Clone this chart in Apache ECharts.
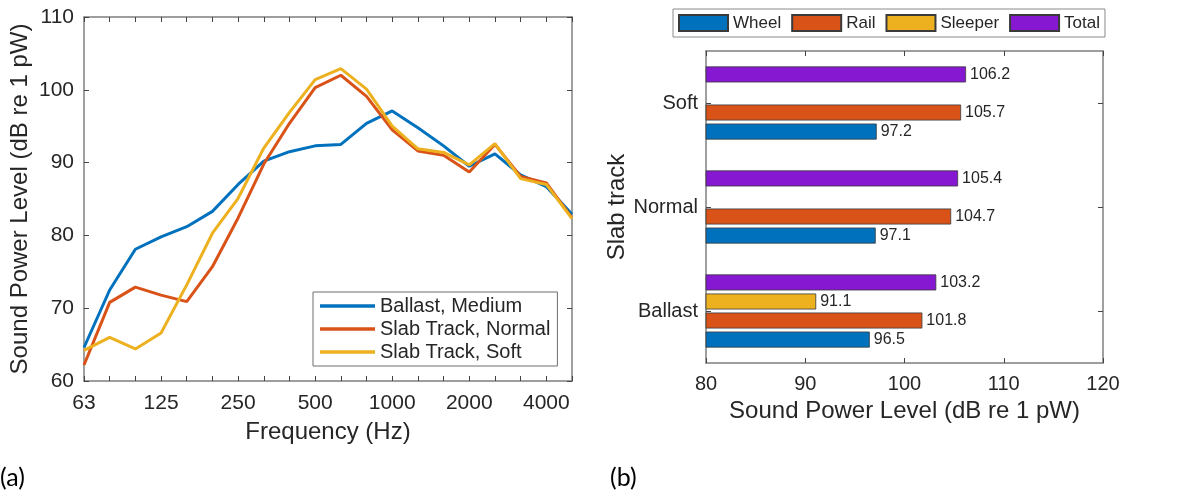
<!DOCTYPE html>
<html>
<head>
<meta charset="utf-8">
<script src="https://cdn.jsdelivr.net/npm/echarts@6/dist/echarts.min.js"></script>
<style>
html,body{margin:0;padding:0;background:#fff;}
#c{width:1179px;height:499px;}
</style>
</head>
<body>
<div id="c"></div>
<script>
// ---- data: panel (a) ----
const freqBands = ['63','80','100','125','160','200','250','315','400','500','630','800','1000','1250','1600','2000','2500','3150','4000','5000'];
const freqTickLabels = ['63','125','250','500','1000','2000','4000'];
const ballastMedium = [64.6,72.5,78.1,79.8,81.2,83.3,87.0,90.2,91.5,92.3,92.5,95.4,97.1,94.8,92.3,89.5,91.2,88.3,86.7,82.9];
const slabNormal    = [62.2,70.8,72.9,71.8,70.9,75.7,82.4,89.8,95.4,100.3,102.0,99.1,94.5,91.6,91.0,88.7,92.5,88.1,87.2,82.4];
const slabSoft      = [64.2,66.0,64.4,66.6,73.2,80.3,85.1,92.0,96.9,101.4,102.9,100.1,95.0,91.9,91.4,89.7,92.6,87.8,87.0,82.3];
const lineNames = ['Ballast, Medium','Slab Track, Normal','Slab Track, Soft'];

// ---- data: panel (b) ----
const trackTypes = ['Ballast','Normal','Soft'];
const wheel   = [96.5, 97.1, 97.2];
const rail    = [101.8, 104.7, 105.7];
const sleeper = [91.1, null, null];
const total   = [103.2, 105.4, 106.2];
const barNames = ['Wheel','Rail','Sleeper','Total'];

const FONT = '"Liberation Sans", Arial, Helvetica, sans-serif';
const TXT = '#262626';
const AX = '#7f7f7f';
const C = {blue:'#0072BD', orange:'#D95319', yellow:'#EDB120', purple:'#8718D1'};

const chart = echarts.init(document.getElementById('c'), null, {renderer:'canvas'});

const tickIn = {show:true, inside:true, length:5, lineStyle:{color:'#444', width:1}};

function lineSeries(name, data, color){
  return {type:'line', name, data, xAxisIndex:0, yAxisIndex:0, symbol:'none',
    lineStyle:{color, width:3}, itemStyle:{color}, z:3, animation:false};
}
function barSeries(name, data, color){
  return {type:'bar', name, data, xAxisIndex:2, yAxisIndex:2, barWidth:16, barGap:'19%',
    itemStyle:{color, borderColor:'#3a3a3a', borderWidth:0.8},
    label:{show:true, position:'right', distance:4, color:TXT, fontFamily:FONT, fontSize:16,
      formatter:p => p.value == null ? '' : Number(p.value).toFixed(1)},
    animation:false};
}

const option = {
  backgroundColor:'#fff',
  textStyle:{fontFamily:FONT, color:TXT},
  grid:[
    {left:84, top:17, width:488, height:364},
    {left:706, top:51, width:397, height:312}
  ],
  xAxis:[
    {gridIndex:0, type:'category', data:freqBands, boundaryGap:false, position:'bottom',
      axisLine:{lineStyle:{color:AX, width:1.5}},
      axisTick:Object.assign({}, tickIn, {interval:0}),
      axisLabel:{color:TXT, fontSize:21, fontFamily:FONT, margin:12,
        interval:(i, v) => freqTickLabels.includes(v)},
      splitLine:{show:false},
      name:'Frequency (Hz)', nameLocation:'middle', nameGap:39,
      nameTextStyle:{fontSize:24, color:TXT, fontFamily:FONT}},
    {gridIndex:0, type:'category', data:freqBands, boundaryGap:false, position:'top',
      axisLine:{lineStyle:{color:AX, width:1.5}},
      axisTick:Object.assign({}, tickIn, {interval:0}),
      axisLabel:{show:false}, splitLine:{show:false}},
    {gridIndex:1, type:'value', min:80, max:120, interval:10, position:'bottom',
      axisLine:{show:true, lineStyle:{color:AX, width:1.5}},
      axisTick:tickIn,
      axisLabel:{color:TXT, fontSize:20, fontFamily:FONT, margin:11},
      splitLine:{show:false},
      name:'Sound Power Level (dB re 1 pW)', nameLocation:'middle', nameGap:35,
      nameTextStyle:{fontSize:24, color:TXT, fontFamily:FONT}},
    {gridIndex:1, type:'value', min:80, max:120, interval:10, position:'top',
      axisLine:{show:true, lineStyle:{color:AX, width:1.5}},
      axisTick:tickIn, axisLabel:{show:false}, splitLine:{show:false}}
  ],
  yAxis:[
    {gridIndex:0, type:'value', min:60, max:110, interval:10, position:'left',
      axisLine:{show:true, lineStyle:{color:AX, width:1.5}},
      axisTick:tickIn,
      axisLabel:{color:TXT, fontSize:21, fontFamily:FONT, margin:10},
      splitLine:{show:false},
      name:'Sound Power Level (dB re 1 pW)', nameLocation:'middle', nameGap:52,
      nameTextStyle:{fontSize:24, color:TXT, fontFamily:FONT}},
    {gridIndex:0, type:'value', min:60, max:110, interval:10, position:'right',
      axisLine:{show:true, lineStyle:{color:AX, width:1.5}},
      axisTick:tickIn, axisLabel:{show:false}, splitLine:{show:false}},
    {gridIndex:1, type:'category', data:trackTypes, position:'left',
      axisLine:{show:true, lineStyle:{color:AX, width:1.5}},
      axisTick:Object.assign({}, tickIn, {alignWithLabel:true}),
      axisLabel:{color:TXT, fontSize:20, fontFamily:FONT, margin:8},
      splitLine:{show:false},
      name:'Slab track', nameLocation:'middle', nameGap:69,
      nameTextStyle:{fontSize:24, color:TXT, fontFamily:FONT}},
    {gridIndex:1, type:'category', data:trackTypes, position:'right',
      axisLine:{show:true, lineStyle:{color:AX, width:1.5}},
      axisTick:Object.assign({}, tickIn, {alignWithLabel:true}),
      axisLabel:{show:false}, splitLine:{show:false}}
  ],
  legend:[
    {data:lineNames, orient:'vertical', left:313, top:292,
      padding:[4,7,4,7], itemGap:3, itemWidth:55, itemHeight:3.5, icon:'rect',
      borderColor:'#6e6e6e', borderWidth:1, backgroundColor:'#fff',
      textStyle:{fontSize:20, color:TXT, fontFamily:FONT}, z:10},
    {data:barNames, orient:'horizontal', left:673, top:9,
      padding:[5,5,5,5], itemGap:10, itemWidth:49, itemHeight:16, icon:'rect',
      borderColor:'#8a8a8a', borderWidth:1,
      textStyle:{fontSize:17, color:TXT, fontFamily:FONT}}
  ],
  series:[
    lineSeries(lineNames[0], ballastMedium, C.blue),
    lineSeries(lineNames[1], slabNormal, C.orange),
    lineSeries(lineNames[2], slabSoft, C.yellow),
    // bars listed top-to-bottom within each group (ECharts places first series at top)
    barSeries(barNames[3], total, C.purple),
    barSeries(barNames[2], sleeper, C.yellow),
    barSeries(barNames[1], rail, C.orange),
    barSeries(barNames[0], wheel, C.blue)
  ],
  graphic:[
    {type:'text', left:0, top:465, style:{text:'(a)', fontSize:25, fill:'#000', fontFamily:'Lato, "Open Sans", sans-serif'}},
    {type:'text', left:610, top:465, style:{text:'(b)', fontSize:25, fill:'#000', fontFamily:'Lato, "Open Sans", sans-serif'}}
  ]
};
chart.setOption(option);
</script>
</body>
</html>
